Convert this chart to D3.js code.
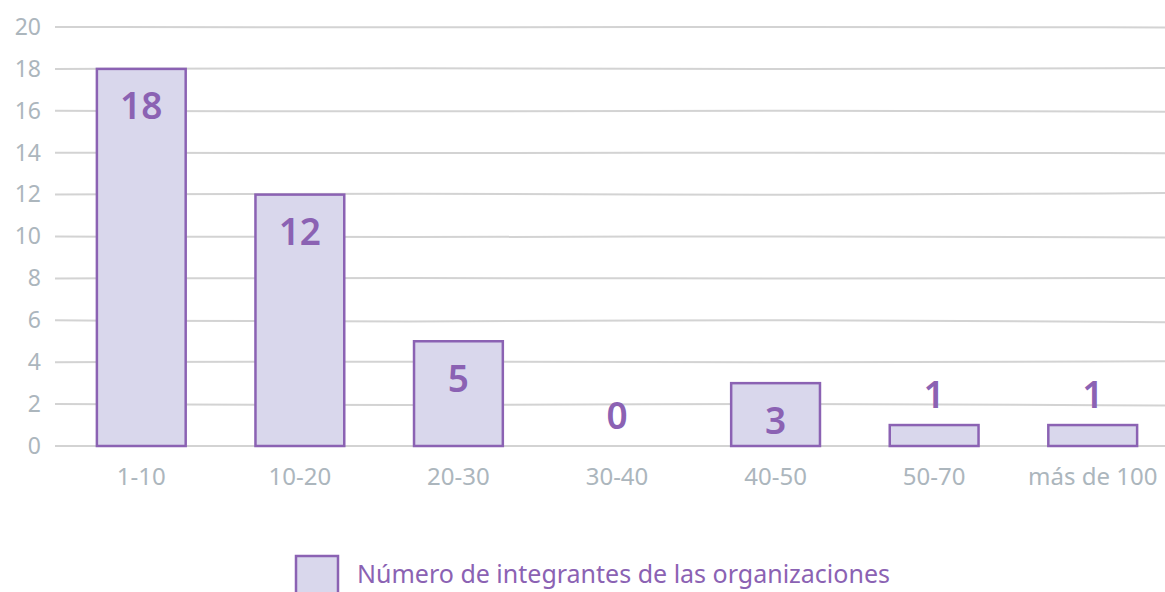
<!DOCTYPE html>
<html><head><meta charset="utf-8">
<script src="https://cdn.jsdelivr.net/npm/d3@7"></script>
<style>
html,body{margin:0;padding:0;background:#fff;}
svg text{font-family:"Noto Sans","Open Sans",sans-serif;}
</style></head>
<body><svg id="c" width="1165" height="592"></svg>
<script>
const categories = ["1-10","10-20","20-30","30-40","40-50","50-70","más de 100"];
const values = [18,12,5,0,3,1,1];
const yTicks = [0,2,4,6,8,10,12,14,16,18,20];
const seriesName = "Número de integrantes de las organizaciones";

const svg = d3.select("#c");
const purple = "#8b62b3", fill = "#d9d7ec", grey = "#acb6bd";
const x = d3.scaleBand().domain(categories).range([62,1172]).paddingInner(0.44).paddingOuter(0.22);
const y = d3.scaleLinear().domain([0,20]).range([446,27]);

// gentle hand-drawn wobble for gridlines (style only)
const wob = [0,1.5,-1,2,-0.5,1,-1.5,0.5,1,-1,0.5];
const line = d3.line().curve(d3.curveBasis);
yTicks.forEach((t,i)=>{
  const yy = y(t);
  const w = wob[i%wob.length];
  svg.append("path")
    .attr("d", line([[55,yy],[400,yy+w],[800,yy-w*0.6],[1165,yy+w]]))
    .attr("fill","none").attr("stroke","#d3d3d3").attr("stroke-width",2);
});

// y axis labels
const yAxis = d3.axisLeft(y).tickValues(yTicks).tickSize(0).tickPadding(0);
const ya = svg.append("g").attr("transform","translate(41,0)").call(yAxis);
ya.select(".domain").remove();
ya.selectAll("text").attr("fill",grey).attr("font-size",23).attr("font-family","'Noto Sans',sans-serif");

// x axis labels
const xAxis = d3.axisBottom(x).tickSize(0).tickPadding(0);
const xa = svg.append("g").attr("transform","translate(0,468)").call(xAxis);
xa.select(".domain").remove();
xa.selectAll("text").attr("fill",grey).attr("font-size",24).attr("font-family","'Noto Sans',sans-serif");

// bars
svg.selectAll("rect.bar").data(values).enter().append("rect")
  .attr("class","bar")
  .attr("x",(d,i)=>x(categories[i]))
  .attr("y",d=>y(d))
  .attr("width",x.bandwidth())
  .attr("height",d=>y(0)-y(d))
  .attr("fill",fill)
  .attr("stroke",purple)
  .attr("stroke-width",d=>d>0?2.5:0);

// value labels
svg.selectAll("text.val").data(values).enter().append("text")
  .attr("class","val")
  .attr("x",(d,i)=>x(categories[i])+x.bandwidth()/2)
  .attr("y",d=>{const h=y(0)-y(d); return h>40? y(d)+36 : y(d)-32;})
  .attr("text-anchor","middle").attr("dominant-baseline","central")
  .attr("fill",purple).attr("font-size",37).attr("font-weight",600)
  .text(d=>d);

// legend
svg.append("rect").attr("x",296).attr("y",556).attr("width",42).attr("height",40)
  .attr("fill",fill).attr("stroke",purple).attr("stroke-width",2.5);
svg.append("text").attr("x",357).attr("y",573).attr("dominant-baseline","central")
  .attr("fill",purple).attr("font-size",25).text(seriesName);
</script></body></html>
